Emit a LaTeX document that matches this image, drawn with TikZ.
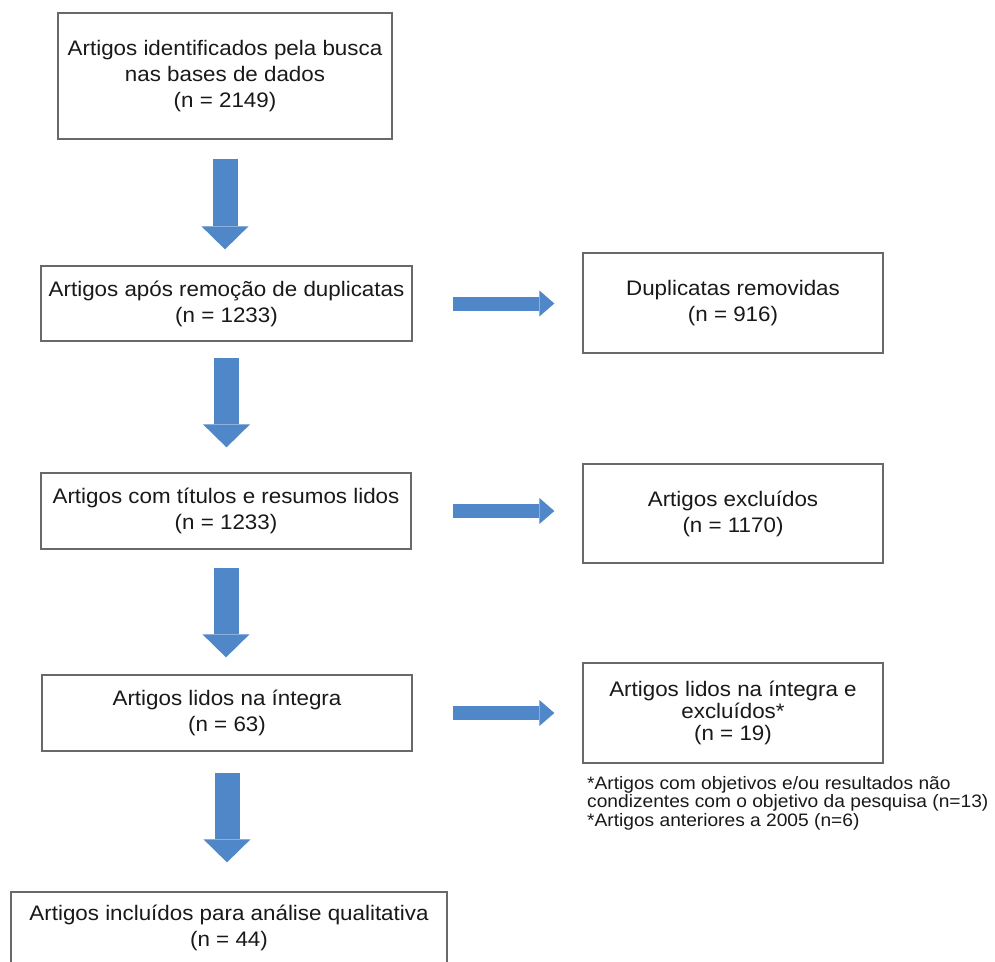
\documentclass[tikz,border=0pt]{standalone}
\usepackage{fontspec}
\setmainfont{Liberation Sans}[FakeStretch=1.065]
\usetikzlibrary{arrows.meta,calc}
\definecolor{azul}{RGB}{79,135,201}
\definecolor{borda}{RGB}{105,105,105}
\definecolor{texto}{RGB}{25,25,25}

\begin{document}
\begin{tikzpicture}[x=1pt,y=-1pt,
  caixa/.style={draw=borda,line width=1.3pt,text=texto,align=center,inner sep=0pt,font=\fontsize{21}{26}\selectfont},
  seta/.style={draw=azul,line width=25pt,-{Triangle[width=47pt,length=23pt,line width=0pt]}},
  setadir/.style={draw=azul,line width=14pt,-{Triangle[width=26pt,length=15pt,line width=0pt]}}]

\useasboundingbox[fill=white] (0,0) rectangle (995,961);


\node[caixa,minimum width=334pt,minimum height=126pt] (busca) at (225,76) {Artigos identificados pela busca\\nas bases de dados\\(n = 2149)};

\node[caixa,minimum width=371pt,minimum height=75pt] (dupl) at (226.5,303.5) {Artigos após remoção de duplicatas\\(n = 1233)};
\node[caixa,minimum width=300pt,minimum height=100pt] (remov) at (733,303) {Duplicatas removidas\\(n = 916)};

\node[caixa,minimum width=370pt,minimum height=76pt] (lidos) at (226,511) {Artigos com títulos e resumos lidos\\(n = 1233)};
\node[caixa,minimum width=300pt,minimum height=99pt] (excl) at (733,513.5) {Artigos excluídos\\(n = 1170)};

\node[caixa,minimum width=370pt,minimum height=76pt] (integra) at (227,713) {Artigos lidos na íntegra\\(n = 63)};
\node[caixa,minimum width=300pt,minimum height=100pt,font=\fontsize{21}{22}\selectfont] (exclint) at (733,713) {Artigos lidos na íntegra e\\excluídos*\\(n = 19)};

\node[anchor=west,align=left,inner sep=0pt,text=texto,font=\fontsize{18}{18.5}\selectfont] (nota) at (587,803) {*Artigos com objetivos e/ou resultados não\\condizentes com o objetivo da pesquisa (n=13)\\*Artigos anteriores a 2005 (n=6)};

\node[caixa,minimum width=436pt,minimum height=72pt] (incl) at (229,928) {Artigos incluídos para análise qualitativa\\(n = 44)};


\draw[seta] ([yshift=-19pt]busca.south) -- ($(busca.south |- dupl.north)+(0,-16)$);
\draw[seta] ([yshift=-16pt]dupl.south) -- ($(dupl.south |- lidos.north)+(0,-25)$);
\draw[seta] ([yshift=-18pt]lidos.south) -- ($(lidos.south |- integra.north)+(0,-17)$);
\draw[seta] ([yshift=-21pt]integra.south) -- ($(integra.south |- incl.north)+(0,-29)$);

\draw[setadir] ([xshift=40pt]dupl.east) -- ($(dupl.east -| remov.west)+(-28,0)$);
\draw[setadir] ([xshift=41pt]lidos.east) -- ($(lidos.east -| excl.west)+(-28,0)$);
\draw[setadir] ([xshift=40pt]integra.east) -- ($(integra.east -| exclint.west)+(-28,0)$);

\end{tikzpicture}
\end{document}
